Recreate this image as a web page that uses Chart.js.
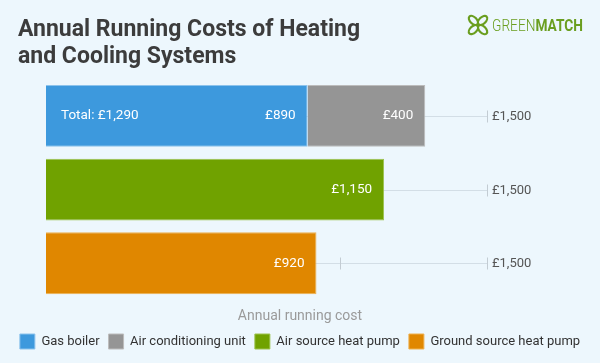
<!DOCTYPE html>
<html>
<head>
<meta charset="utf-8">
<script src="https://cdn.jsdelivr.net/npm/chart.js@4.4.1/dist/chart.umd.min.js"></script>
<style>
  html, body { margin: 0; padding: 0; background: #edf7fd; }
  #wrap { position: relative; width: 600px; height: 363px; overflow: hidden; font-family: Roboto, sans-serif; }
  h1 { position: absolute; left: 18px; top: 15px; margin: 0; font-size: 23px; line-height: 27px; font-weight: 700; color: #3c3c3c; z-index: 2; }
  #logo { position: absolute; left: 466px; top: 10px; z-index: 2; }
  canvas { position: absolute; left: 0; top: 0; }
</style>
</head>
<body>
<div id="wrap">
  <h1>Annual Running Costs of Heating<br>and Cooling Systems</h1>
  <svg id="logo" width="124" height="30" viewBox="0 0 124 30">
    <g fill="none" stroke="#6a9e1f" stroke-width="2.2" transform="translate(12,15)">
      <ellipse cx="-4.6" cy="-4.6" rx="5.6" ry="3.3" transform="rotate(45 -4.6 -4.6)"/>
      <ellipse cx="4.6" cy="-4.6" rx="5.6" ry="3.3" transform="rotate(-45 4.6 -4.6)"/>
      <ellipse cx="-4.6" cy="4.6" rx="5.6" ry="3.3" transform="rotate(-45 -4.6 4.6)"/>
      <ellipse cx="4.6" cy="4.6" rx="5.6" ry="3.3" transform="rotate(45 4.6 4.6)"/>
    </g>
    <text x="26" y="21" font-family="Roboto, sans-serif" font-size="16" fill="#6a9e1f" textLength="91" lengthAdjust="spacingAndGlyphs"><tspan font-weight="300">GREEN</tspan><tspan font-weight="700">MATCH</tspan></text>
  </svg>
  <canvas id="canvas" width="600" height="363"></canvas>
</div>
<script>
// values
const categories = ['Gas boiler + Air conditioning unit', 'Air source heat pump', 'Ground source heat pump']
const gasBoiler = [890, null, null]
const airConditioning = [400, null, null]
const airSourceHeatPump = [null, 1150, null]
const groundSourceHeatPump = [null, null, 920]
const axisTicks = [0, 500, 1000, 1500]
const axisMax = 1500

const money = (v) => '£' + v.toLocaleString('en-GB')

// thin axis through each row, with ticks and the max label
const rowAxes = {
  id: 'rowAxes',
  beforeDatasetsDraw(chart) {
    const ctx = chart.ctx
    const xs = chart.scales.x
    const ys = chart.scales.y
    ctx.save()
    categories.forEach((c, i) => {
      const y = Math.round(ys.getPixelForValue(i)) + 0.5
      ctx.strokeStyle = '#d3dee6'
      ctx.lineWidth = 1
      ctx.beginPath()
      ctx.moveTo(xs.getPixelForValue(0), y)
      ctx.lineTo(xs.getPixelForValue(axisMax), y)
      ctx.stroke()
      ctx.strokeStyle = '#c3ccd3'
      axisTicks.forEach((t) => {
        const x = Math.round(xs.getPixelForValue(t)) + 0.5
        ctx.beginPath()
        ctx.moveTo(x, y - 6)
        ctx.lineTo(x, y + 6)
        ctx.stroke()
      })
      ctx.fillStyle = '#555'
      ctx.font = '13px Roboto'
      ctx.textAlign = 'left'
      ctx.textBaseline = 'middle'
      ctx.fillText(money(axisMax), xs.getPixelForValue(axisMax) + 5, y)
    })
    ctx.restore()
  },
  afterDatasetsDraw(chart) {
    const ctx = chart.ctx
    const xs = chart.scales.x
    ctx.save()
    ctx.fillStyle = '#fff'
    ctx.font = '13.5px Roboto'
    ctx.textBaseline = 'middle'
    chart.data.datasets.forEach((ds, di) => {
      chart.getDatasetMeta(di).data.forEach((bar, i) => {
        const v = ds.data[i]
        if (v == null) return
        ctx.textAlign = 'right'
        ctx.fillText(money(v), bar.x - 12, bar.y)
      })
    })
    // total for the stacked row
    const total = gasBoiler[0] + airConditioning[0]
    const first = chart.getDatasetMeta(0).data[0]
    ctx.textAlign = 'left'
    ctx.fillText('Total: ' + money(total), xs.getPixelForValue(0) + 15, first.y)
    ctx.restore()
  }
}

const data = {
  labels: categories,
  datasets: [
    { label: 'Gas boiler', data: gasBoiler, backgroundColor: '#3d99dd', borderColor: '#8cc3ec' },
    { label: 'Air conditioning unit', data: airConditioning, backgroundColor: '#959595', borderColor: '#bcbcbc' },
    { label: 'Air source heat pump', data: airSourceHeatPump, backgroundColor: '#70a200', borderColor: '#9cc24d' },
    { label: 'Ground source heat pump', data: groundSourceHeatPump, backgroundColor: '#e08700', borderColor: '#eeb04f' },
  ],
}
data.datasets.forEach((ds) => {
  ds.borderWidth = 1
  ds.categoryPercentage = 1
  ds.barPercentage = 0.84
})

const config = {
  type: 'bar',
  data: data,
  options: {
    indexAxis: 'y',
    responsive: false,
    animation: false,
    layout: { padding: { left: 0, right: 0, top: 79, bottom: 4 } },
    scales: {
      x: { stacked: true, min: 0, max: axisMax, display: false },
      y: {
        stacked: true,
        grid: { display: false, drawTicks: false },
        border: { display: false },
        ticks: { display: false },
        afterFit: (scale) => { scale.width = 46 },
      },
      // empty right-hand axis only reserves room for the £1,500 labels
      yRight: {
        type: 'category',
        position: 'right',
        grid: { display: false, drawTicks: false },
        border: { display: false },
        ticks: { display: false },
        afterFit: (scale) => { scale.width = 113 },
      },
    },
    plugins: {
      legend: {
        position: 'bottom',
        title: {
          display: true,
          text: 'Annual running cost',
          color: '#9a9a9a',
          font: { family: 'Roboto', size: 14 },
          padding: { top: 9, bottom: -1 },
        },
        labels: {
          boxWidth: 15,
          boxHeight: 15,
          color: '#333',
          padding: 9,
          font: { family: 'Roboto', size: 13 },
        },
      },
      tooltip: { enabled: false },
    },
  },
  plugins: [rowAxes],
}

const canvas = document.getElementById('canvas')
const chart = new Chart(canvas, config)
</script>
</body>
</html>
